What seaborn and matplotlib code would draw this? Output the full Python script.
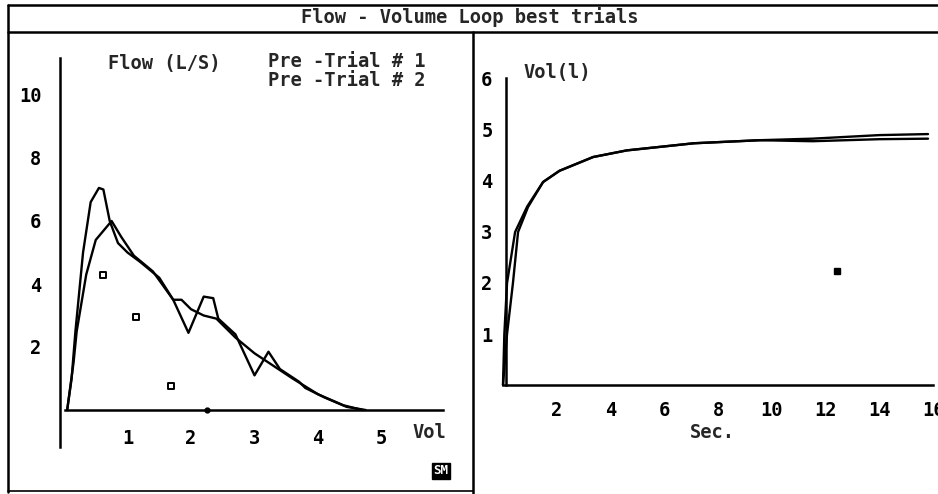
import matplotlib
matplotlib.use("Agg")
import matplotlib.pyplot as plt
from matplotlib.lines import Line2D
import pandas as pd
import seaborn as sns

# Flow-volume loop (left panel)
vol_trial1 = [0.05, 0.12, 0.18, 0.30, 0.42, 0.55, 0.62, 0.72, 0.85, 1.00, 1.20, 1.50, 1.72,
              1.96, 2.20, 2.35, 2.43, 2.70, 3.00, 3.22, 3.40, 3.70, 3.80, 4.10, 4.45, 4.75]
flow_trial1 = [0.0, 1.0, 2.5, 5.0, 6.6, 7.05, 7.0, 6.0, 5.3, 5.0, 4.7, 4.2, 3.5,
               2.45, 3.6, 3.55, 2.9, 2.4, 1.1, 1.85, 1.3, 0.9, 0.7, 0.4, 0.1, 0.0]
vol_trial2 = [0.05, 0.15, 0.20, 0.35, 0.50, 0.75, 0.90, 1.10, 1.40, 1.72, 1.85, 2.00, 2.20,
              2.40, 2.70, 3.00, 3.30, 3.60, 4.00, 4.40, 4.70]
flow_trial2 = [0.0, 1.5, 2.5, 4.3, 5.4, 6.0, 5.5, 4.9, 4.4, 3.5, 3.5, 3.2, 3.0,
               2.9, 2.3, 1.8, 1.4, 1.0, 0.5, 0.15, 0.0]
pred_vol = [0.61, 1.13, 1.68]
pred_flow = [4.29, 2.95, 0.76]

# Volume-time curves (right panel)
sec_trial1 = [0.0, 0.05, 0.15, 0.45, 0.90, 1.49, 2.10, 3.35, 4.60, 7.10, 9.55, 11.5, 14.0, 15.8]
vt_trial1 = [0.0, 1.0, 2.0, 3.0, 3.5, 3.98, 4.2, 4.47, 4.6, 4.74, 4.8, 4.83, 4.9, 4.92]
sec_trial2 = [0.0, 0.15, 0.37, 0.56, 0.93, 1.49, 2.10, 3.35, 4.60, 7.10, 9.55, 11.5, 14.0, 15.8]
vt_trial2 = [0.0, 1.0, 2.0, 3.0, 3.49, 3.98, 4.2, 4.47, 4.6, 4.74, 4.8, 4.78, 4.82, 4.83]

legend_lines = ["Pre -Trial # 1", "Pre -Trial # 2"]

W, H = 938, 494
FONT = "DejaVu Sans Mono"
FS = 13.5

sns.set_style("white")
plt.rcParams["font.family"] = [FONT]
plt.rcParams["font.weight"] = "bold"

fig = plt.figure(figsize=(W / 100, H / 100), dpi=100)


def px_axes(left, top, right, bottom):
    return fig.add_axes([left / W, 1 - bottom / H, (right - left) / W, (bottom - top) / H])


def ftext(x, y, s, **kw):
    fig.text(x / W, 1 - y / H, s, fontsize=FS, fontweight="bold", family=FONT, **kw)


def style_axes(ax):
    ax.patch.set_alpha(0)
    for side in ["top", "right"]:
        ax.spines[side].set_visible(False)
    for side in ["left", "bottom"]:
        ax.spines[side].set_linewidth(1.8)
        ax.spines[side].set_color("black")
    ax.tick_params(direction="inout", length=7, width=1.6, labelsize=FS, colors="black")
    for lab in ax.get_xticklabels() + ax.get_yticklabels():
        lab.set_fontweight("bold")
    ax.set_xlabel("")
    ax.set_ylabel("")


# ---- left panel: flow vs volume ----
axl = px_axes(10, 40, 470, 460)
x0, sx = 64, 63.5
y0, sy = 410, 31.5
axl.set_xlim((10 - x0) / sx, (470 - x0) / sx)
axl.set_ylim((y0 - 460) / sy, (y0 - 40) / sy)

fv1 = pd.DataFrame({"vol": vol_trial1, "flow": flow_trial1})
fv2 = pd.DataFrame({"vol": vol_trial2, "flow": flow_trial2})
sns.lineplot(data=fv1, x="vol", y="flow", sort=False, estimator=None, color="black", lw=1.7, ax=axl)
sns.lineplot(data=fv2, x="vol", y="flow", sort=False, estimator=None, color="black", lw=1.7, ax=axl)
sns.scatterplot(x=pred_vol, y=pred_flow, marker="s", s=18, facecolor="white",
                edgecolor="black", linewidth=1.4, ax=axl)
axl.plot([2.25], [0], "o", color="black", ms=3.5)

axl.spines["left"].set_position(("data", -0.06))
axl.spines["left"].set_bounds(-1.17, 11.17)
axl.spines["bottom"].set_position(("data", 0))
axl.spines["bottom"].set_bounds(0.02, 5.97)
axl.set_xticks([1, 2, 3, 4, 5])
axl.set_yticks([2, 4, 6, 8, 10])
style_axes(axl)
axl.tick_params(axis="y", pad=10)
axl.tick_params(axis="x", pad=10)
axl.text(5.76, -0.73, "Vol", fontsize=FS, fontweight="bold", ha="center", va="center")

# ---- right panel: volume vs time ----
axr = px_axes(478, 40, 938, 460)
x0r, sxr = 503, 26.9
y0r, syr = 385, 51.0
axr.set_xlim((478 - x0r) / sxr, (938 - x0r) / sxr)
axr.set_ylim((y0r - 460) / syr, (y0r - 40) / syr)

vt1 = pd.DataFrame({"sec": sec_trial1, "vol": vt_trial1})
vt2 = pd.DataFrame({"sec": sec_trial2, "vol": vt_trial2})
sns.lineplot(data=vt1, x="sec", y="vol", sort=False, estimator=None, color="black", lw=1.7, ax=axr)
sns.lineplot(data=vt2, x="sec", y="vol", sort=False, estimator=None, color="black", lw=1.7, ax=axr)
axr.plot([12.4], [2.24], marker="s", color="black", ms=4)

axr.spines["left"].set_position(("data", 0.1))
axr.spines["left"].set_bounds(0, 6.02)
axr.spines["bottom"].set_position(("data", 0))
axr.spines["bottom"].set_bounds(0, 16)
axr.set_xticks([2, 4, 6, 8, 10, 12, 14, 16])
axr.set_yticks([1, 2, 3, 4, 5, 6])
style_axes(axr)
axr.tick_params(axis="y", pad=6)
axr.tick_params(axis="x", pad=8)

# ---- texts ----
ftext(470, 17, "Flow - Volume Loop best trials", ha="center", va="center")
ftext(108, 63, "Flow (L/S)", ha="left", va="center")
ftext(268, 71, "\n".join(legend_lines), ha="left", va="center", linespacing=0.95)
ftext(523, 72, "Vol(l)", ha="left", va="center")
ftext(712, 432, "Sec.", ha="center", va="center")
fig.text(441 / W, 1 - 471 / H, "SM", fontsize=9, fontweight="bold", family=FONT,
         color="white", ha="center", va="center",
         bbox=dict(boxstyle="square,pad=0.15", fc="black", ec="black"))

# ---- frame lines ----
def fline(xs, ys, lw=1.8):
    fig.add_artist(Line2D([x / W for x in xs], [1 - y / H for y in ys],
                          color="black", lw=lw, transform=fig.transFigure))

fline([8, 940], [5, 5])
fline([8, 940], [32, 32])
fline([8, 8], [5, 492])
fline([473, 473], [32, 494])
fline([8, 473], [491, 491], lw=1.2)

fig.savefig("out.png", dpi=100, facecolor="white")
